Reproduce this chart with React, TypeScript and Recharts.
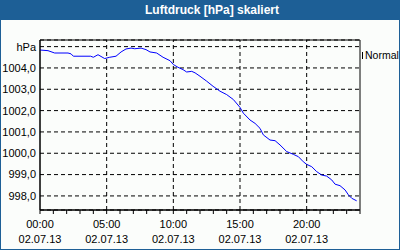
import React from 'react';
import {
  LineChart,
  Line,
  XAxis,
  YAxis,
  CartesianGrid,
  ReferenceLine,
  ReferenceArea,
  Legend,
} from 'recharts';

// hours since 00:00 on 02.07.13
const hours = [
  0, 0.6, 1.1, 2.1, 2.33, 2.5, 3.8, 4.0, 4.35, 4.85, 5.23, 5.7, 6.08, 6.45, 6.83, 7.1,
  7.58, 7.95, 8.25, 8.75, 9.23, 9.75, 10.0, 10.35, 10.73, 11.0, 11.38, 11.63, 12.0,
  12.5, 12.98, 13.5, 14.0, 14.5, 15.0, 15.25, 15.75, 16.13, 16.5, 16.75, 17.25, 17.63,
  18.0, 18.5, 19.0, 19.38, 19.75, 20.0, 20.38, 20.75, 21.13, 21.5, 21.88, 22.13, 22.5,
  22.88, 23.13, 23.38, 23.75,
];

const pressure = [
  1004.84, 1004.81, 1004.7, 1004.7, 1004.66, 1004.55, 1004.55, 1004.5, 1004.62, 1004.44,
  1004.5, 1004.55, 1004.75, 1004.89, 1004.93, 1004.9, 1004.93, 1004.86, 1004.75, 1004.7,
  1004.5, 1004.34, 1004.16, 1004.03, 1003.92, 1003.81, 1003.84, 1003.77, 1003.61,
  1003.38, 1003.14, 1002.91, 1002.75, 1002.52, 1002.15, 1001.88, 1001.56, 1001.4,
  1001.17, 1000.86, 1000.62, 1000.59, 1000.39, 1000.08, 999.95, 999.84, 999.6, 999.48,
  999.37, 999.14, 998.98, 998.93, 998.75, 998.55, 998.48, 998.28, 998.05, 997.89, 997.77,
];

const hourTicks = Array.from({ length: 25 }, (_, i) => i);
const majorHours = [5, 10, 15, 20];
const pressureTicks = [998, 999, 1000, 1001, 1002, 1003, 1004, 1005];
const dateLabel = '02.07.13';

const data = hours.map((h, i) => ({ h, p: pressure[i] }));

const FONT = '"Liberation Sans", Arial, sans-serif';
const BLUE = '#1d5f96';

function TimeTick({ x, y, payload }: any) {
  const v = payload.value as number;
  if (v % 5 !== 0 || v === 24) return <g />;
  const label = String(v).padStart(2, '0') + ':00';
  return (
    <text x={x} y={y} textAnchor="middle" fontSize={11} fontFamily={FONT} fill="#000">
      <tspan x={x} dy={14}>{label}</tspan>
      <tspan x={x} dy={15}>{dateLabel}</tspan>
    </text>
  );
}

function fmtPressure(v: number) {
  if (v === 1005) return 'hPa';
  return v.toFixed(1).replace('.', ',');
}

function LegendBox({ payload }: any) {
  const name = payload?.[0]?.value ?? 'Normal';
  return (
    <div style={{ display: 'flex', alignItems: 'center', fontFamily: FONT, fontSize: 10.5, color: '#000', whiteSpace: 'nowrap' }}>
      <span style={{ display: 'inline-block', width: 1, height: 7, background: '#000', marginRight: 2 }} />
      {name}
    </div>
  );
}

export default function App() {
  return (
    <div
      style={{
        position: 'absolute',
        left: 0,
        top: 0,
        width: 400,
        height: 250,
        boxSizing: 'border-box',
        border: `1px solid ${BLUE}`,
        background: '#fbfdfb',
        overflow: 'hidden',
      }}
    >
      <div
        style={{
          height: 19,
          background: BLUE,
          color: '#fff',
          fontFamily: FONT,
          fontWeight: 'bold',
          fontSize: 12,
          lineHeight: '19px',
          paddingLeft: 144,
          whiteSpace: 'nowrap',
        }}
      >
        Luftdruck [hPa] skaliert
      </div>
      <LineChart width={398} height={229} data={data} margin={{ top: 20, right: 39, bottom: 0, left: 0 }}>
        <CartesianGrid vertical={false} stroke="#000" strokeDasharray="4 3" />
        <XAxis
          dataKey="h"
          type="number"
          domain={[0, 24]}
          ticks={hourTicks}
          interval={0}
          height={39}
          tickSize={4}
          tickMargin={0}
          stroke="#000"
          tickLine={{ stroke: '#000' }}
          axisLine={{ stroke: '#000' }}
          tick={<TimeTick />}
        />
        <YAxis
          type="number"
          domain={[997.34, 1005.31]}
          allowDataOverflow
          ticks={pressureTicks}
          interval={0}
          width={39}
          tickLine={false}
          tickSize={0}
          tickMargin={4}
          axisLine={{ stroke: '#000' }}
          tickFormatter={fmtPressure}
          tick={{ fill: '#000', fontSize: 11, fontFamily: FONT }}
        />
        {majorHours.map((h) => (
          <ReferenceLine key={h} x={h} stroke="#000" strokeDasharray="4 3" />
        ))}
        <ReferenceArea x1={0} x2={24} y1={997.34} y2={1005.31} stroke="#000" fill="none" ifOverflow="visible" />
        <Line
          type="linear"
          dataKey="p"
          name="Normal"
          stroke="#0000ff"
          strokeWidth={1}
          dot={false}
          isAnimationActive={false}
        />
        <Legend
          layout="horizontal"
          verticalAlign="middle"
          align="center"
          content={<LegendBox />}
          wrapperStyle={{ top: 29, left: 361, width: 40 }}
        />
      </LineChart>
    </div>
  );
}
